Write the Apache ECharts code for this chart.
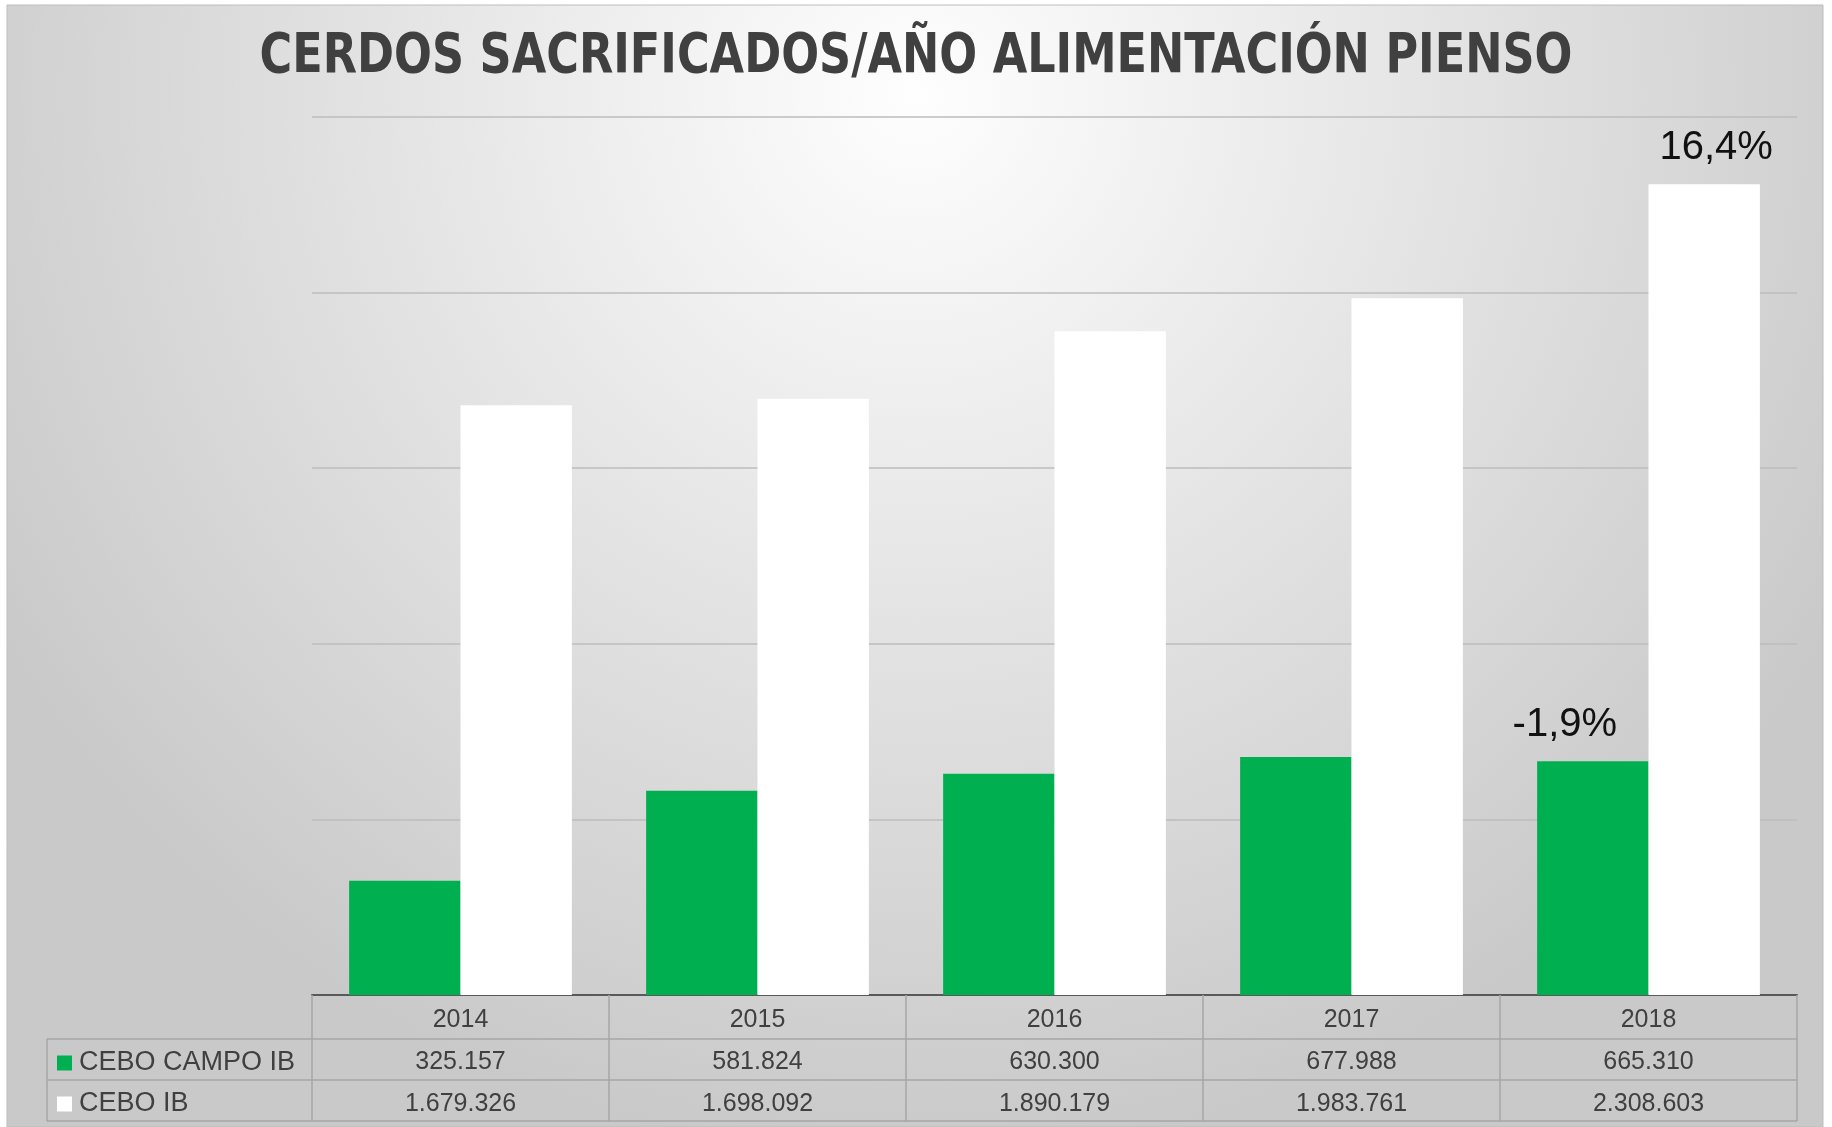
<!DOCTYPE html>
<html>
<head>
<meta charset="utf-8">
<script src="https://cdn.jsdelivr.net/npm/echarts@6/dist/echarts.min.js"></script>
<style>
html,body{margin:0;padding:0;background:#fff;}
#chart{width:1832px;height:1127px;}
</style>
</head>
<body>
<div id="chart"></div>
<script>
const titleText = 'CERDOS SACRIFICADOS/AÑO ALIMENTACIÓN PIENSO';
const years = ['2014', '2015', '2016', '2017', '2018'];
const seriesNames = ['CEBO CAMPO IB', 'CEBO IB'];
const ceboCampo = [325157, 581824, 630300, 677988, 665310];
const ceboIB = [1679326, 1698092, 1890179, 1983761, 2308603];
const yTicks = [0, 500000, 1000000, 1500000, 2000000, 2500000];

function fmt(n) { return String(n).replace(/\B(?=(\d{3})+(?!\d))/g, '.'); }
function pct(arr) {
  const a = arr[arr.length - 2], b = arr[arr.length - 1];
  return ((b - a) / a * 100).toFixed(1).replace('.', ',') + '%';
}
const last = years.length - 1;
const labelFont = { fontFamily: 'Liberation Sans', fontSize: 40, color: '#111' };

const chart = echarts.init(document.getElementById('chart'), null, { renderer: 'canvas' });
chart.setOption({
  animation: false,
  graphic: [
    { type: 'rect', z: -10, silent: true, shape: { x: 7, y: 5, width: 1816, height: 1122 },
      style: { fill: new echarts.graphic.RadialGradient(0.5, 0.08, 0.95, [
        { offset: 0, color: '#fefefe' }, { offset: 0.45, color: '#e6e6e6' }, { offset: 1, color: '#c9c9c9' }]),
        stroke: '#bdbdbd', lineWidth: 1 } },
    { type: 'text', z: 10, x: 916, y: 57, scaleX: 0.885,
      style: { text: titleText, align: 'center', verticalAlign: 'middle',
        font: "bold 56px 'DejaVu Sans Condensed','DejaVu Sans','Liberation Sans'", fill: '#404040' } },
    { type: 'line', z: 5, shape: { x1: 47, y1: 1039, x2: 1797, y2: 1039 }, style: { stroke: '#a6a6a6', lineWidth: 1.5 } },
    { type: 'line', z: 5, shape: { x1: 47, y1: 1080, x2: 1797, y2: 1080 }, style: { stroke: '#a6a6a6', lineWidth: 1.5 } },
    { type: 'line', z: 5, shape: { x1: 47, y1: 1121, x2: 1797, y2: 1121 }, style: { stroke: '#a6a6a6', lineWidth: 1.5 } },
    { type: 'line', z: 5, shape: { x1: 47, y1: 1039, x2: 47, y2: 1121 }, style: { stroke: '#a6a6a6', lineWidth: 1.5 } }
  ],
  legend: {
    data: seriesNames, orient: 'vertical', left: 52, top: 1043, itemGap: 11,
    itemWidth: 15, itemHeight: 15, icon: 'rect',
    textStyle: { fontFamily: 'Liberation Sans', fontSize: 27, color: '#404040', lineHeight: 30, padding: [0, 0, 0, 2] }
  },
  grid: { left: 312, right: 35, top: 117, bottom: 132, containLabel: false },
  xAxis: {
    type: 'category', data: years,
    axisLine: { lineStyle: { color: '#595959', width: 2 } },
    axisTick: { show: true, length: 126, lineStyle: { color: '#a6a6a6', width: 1.5 } },
    axisLabel: {
      interval: 0, margin: 4, fontFamily: 'Liberation Sans', fontSize: 25, lineHeight: 42, color: '#404040',
      formatter: (v, i) => v + '\n' + fmt(ceboCampo[i]) + '\n' + fmt(ceboIB[i])
    }
  },
  yAxis: {
    type: 'value', min: yTicks[0], max: yTicks[yTicks.length - 1], interval: yTicks[1] - yTicks[0],
    axisLabel: { show: false }, axisLine: { show: false }, axisTick: { show: false },
    splitLine: { lineStyle: { color: '#bcbcbc', width: 1.5 } }
  },
  series: [
    { name: seriesNames[0], type: 'bar', barGap: '0%', barCategoryGap: '25%',
      itemStyle: { color: '#00B050' },
      data: ceboCampo.map((v, i) => i === last ? { value: v, label: Object.assign({ show: true, position: 'top', distance: 16, offset: [-28, 0], formatter: pct(ceboCampo) }, labelFont) } : v) },
    { name: seriesNames[1], type: 'bar', barGap: '0%', barCategoryGap: '25%',
      itemStyle: { color: '#FFFFFF' },
      data: ceboIB.map((v, i) => i === last ? { value: v, label: Object.assign({ show: true, position: 'top', distance: 16, offset: [12, 0], formatter: pct(ceboIB) }, labelFont) } : v) }
  ]
});
</script>
</body>
</html>
